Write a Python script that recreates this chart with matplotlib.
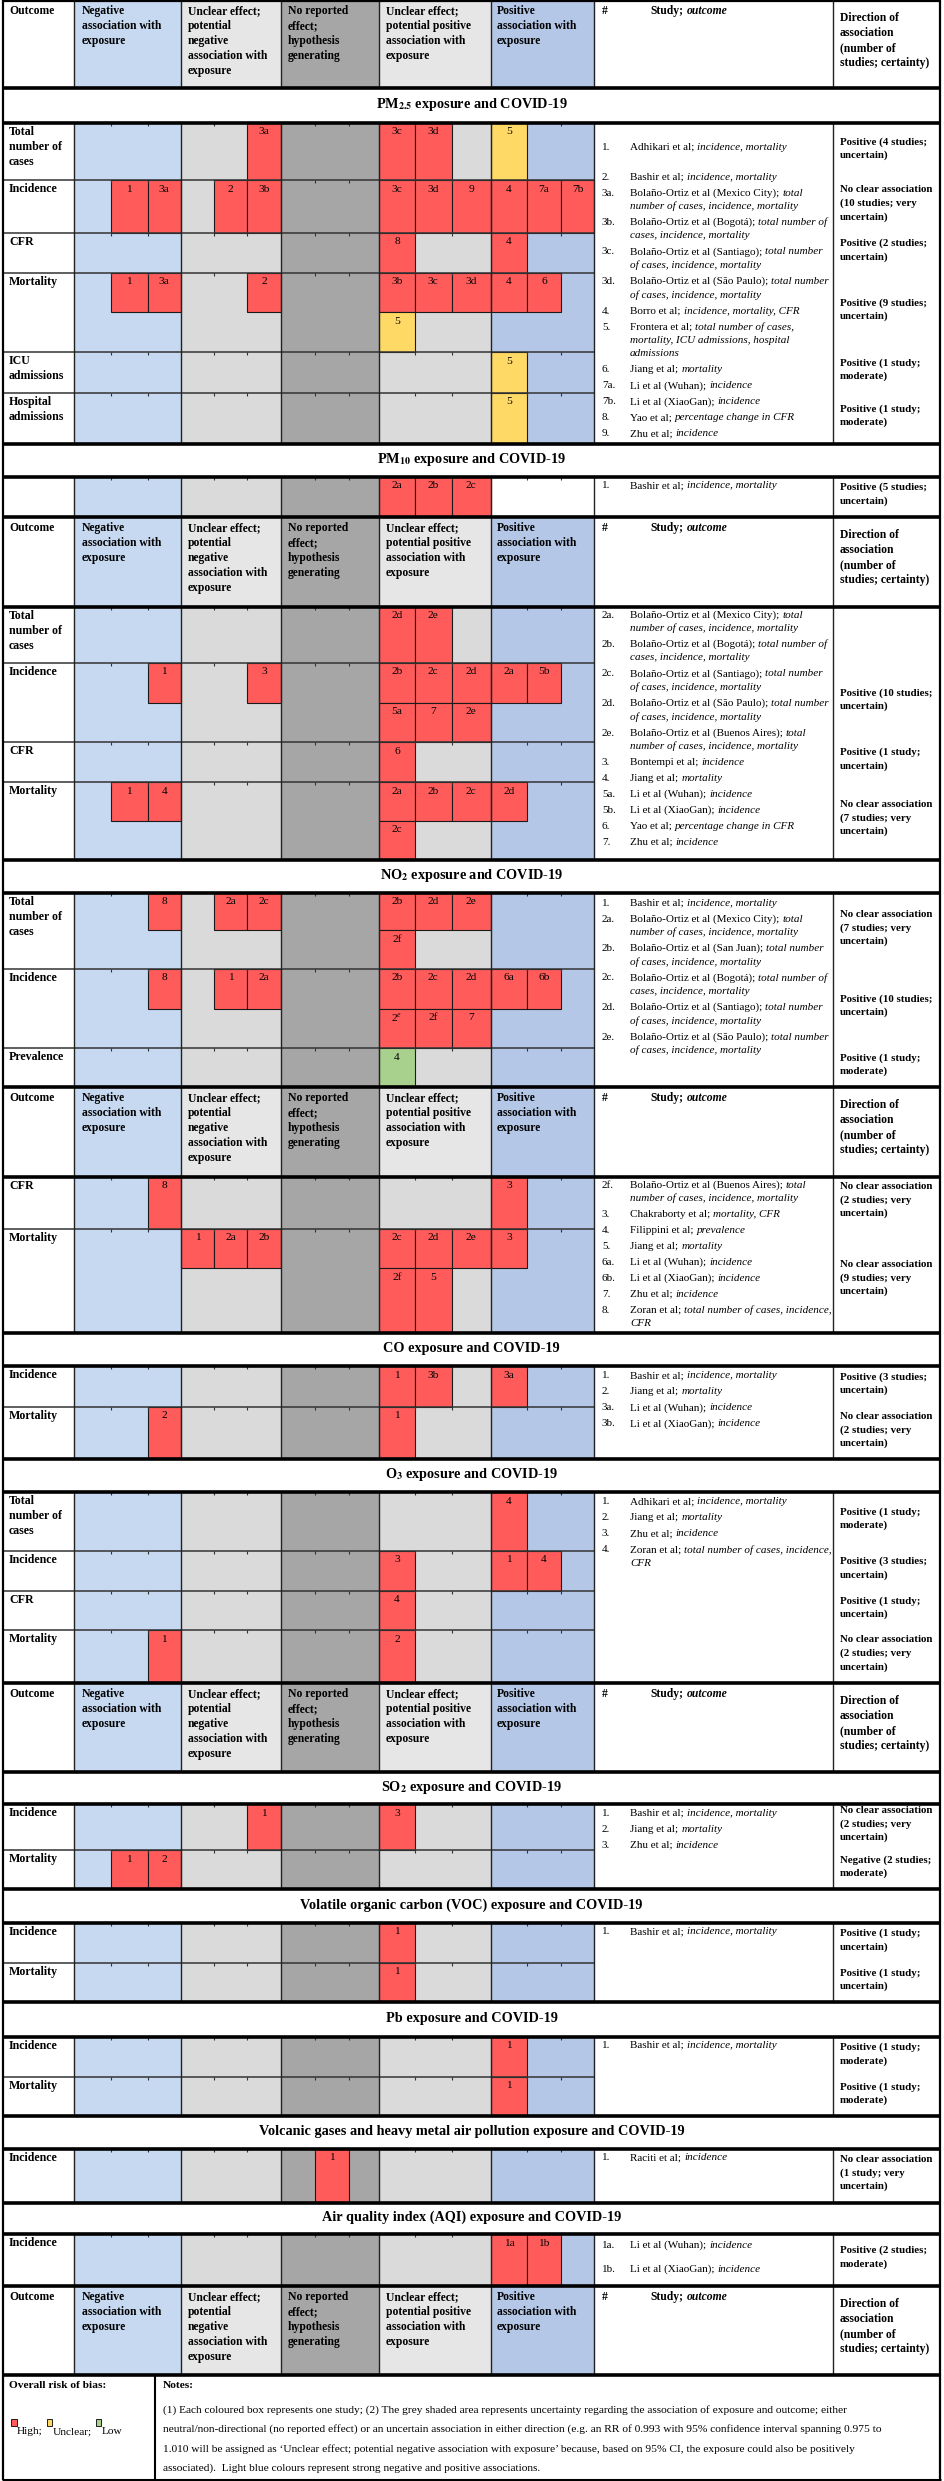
import matplotlib
matplotlib.use('Agg')
import matplotlib.pyplot as plt
from matplotlib.patches import Rectangle

plt.rcParams['font.family'] = ['Liberation Serif', 'DejaVu Serif']
plt.rcParams['mathtext.fontset'] = 'stix'

# ---------------------------------------------------------------- data
HEADER_LABELS = ["Outcome",
                 "Negative\nassociation with\nexposure",
                 "Unclear effect;\npotential\nnegative\nassociation with\nexposure",
                 "No reported\neffect;\nhypothesis\ngenerating",
                 "Unclear effect;\npotential positive\nassociation with\nexposure",
                 "Positive\nassociation with\nexposure"]
DIRECTION_HEADER = "Direction of\nassociation\n(number of\nstudies; certainty)"

TITLES = {
    'PM25': r"PM$_{\mathbf{2.5}}$ exposure and COVID-19",
    'PM10': r"PM$_{\mathbf{10}}$ exposure and COVID-19",
    'NO2': r"NO$_{\mathbf{2}}$ exposure and COVID-19",
    'CO': "CO exposure and COVID-19",
    'O3': r"O$_{\mathbf{3}}$ exposure and COVID-19",
    'SO2': r"SO$_{\mathbf{2}}$ exposure and COVID-19",
    'VOC': "Volatile organic carbon (VOC) exposure and COVID-19",
    'Pb': "Pb exposure and COVID-19",
    'Volc': "Volcanic gases and heavy metal air pollution exposure and COVID-19",
    'AQI': "Air quality index (AQI) exposure and COVID-19",
}

# boxes: (line, slot 0-14, label, risk of bias H/U/L)
PM25_OUTCOMES = ["Total\nnumber of\ncases", "Incidence", "CFR", "Mortality", "ICU\nadmissions", "Hospital\nadmissions"]
PM25_BOXES = [
    [(0, 5, '3a', 'H'), (0, 9, '3c', 'H'), (0, 10, '3d', 'H'), (0, 12, '5', 'U')],
    [(0, 1, '1', 'H'), (0, 2, '3a', 'H'), (0, 4, '2', 'H'), (0, 5, '3b', 'H'), (0, 9, '3c', 'H'),
     (0, 10, '3d', 'H'), (0, 11, '9', 'H'), (0, 12, '4', 'H'), (0, 13, '7a', 'H'), (0, 14, '7b', 'H')],
    [(0, 9, '8', 'H'), (0, 12, '4', 'H')],
    [(0, 1, '1', 'H'), (0, 2, '3a', 'H'), (0, 5, '2', 'H'), (0, 9, '3b', 'H'), (0, 10, '3c', 'H'),
     (0, 11, '3d', 'H'), (0, 12, '4', 'H'), (0, 13, '6', 'H'), (1, 9, '5', 'U')],
    [(0, 12, '5', 'U')],
    [(0, 12, '5', 'U')],
]
PM25_DIRECTIONS = ["Positive (4 studies;\nuncertain)", "No clear association\n(10 studies; very\nuncertain)",
                   "Positive (2 studies;\nuncertain)", "Positive (9 studies;\nuncertain)",
                   "Positive (1 study;\nmoderate)", "Positive (1 study;\nmoderate)"]
PM25_STUDIES = [
    ("1.", "Adhikari et al;", "incidence, mortality"),
    ("2.", "Bashir et al;", "incidence, mortality"),
    ("3a.", "Bolaño-Ortiz et al (Mexico City);", "total\nnumber of cases, incidence, mortality"),
    ("3b.", "Bolaño-Ortiz et al (Bogotá);", "total number of\ncases, incidence, mortality"),
    ("3c.", "Bolaño-Ortiz et al (Santiago);", "total number\nof cases, incidence, mortality"),
    ("3d.", "Bolaño-Ortiz et al (São Paulo);", "total number\nof cases, incidence, mortality"),
    ("4.", "Borro et al;", "incidence, mortality, CFR"),
    ("5.", "Frontera et al;", "total number of cases,\nmortality, ICU admissions, hospital\nadmissions"),
    ("6.", "Jiang et al;", "mortality"),
    ("7a.", "Li et al (Wuhan);", "incidence"),
    ("7b.", "Li et al (XiaoGan);", "incidence"),
    ("8.", "Yao et al;", "percentage change in CFR"),
    ("9.", "Zhu et al;", "incidence"),
]

PM10A_OUTCOMES = [""]
PM10A_BOXES = [[(0, 9, '2a', 'H'), (0, 10, '2b', 'H'), (0, 11, '2c', 'H')]]
PM10A_DIRECTIONS = ["Positive (5 studies;\nuncertain)"]
PM10A_STUDIES = [("1.", "Bashir et al;", "incidence, mortality")]

PM10_OUTCOMES = ["Total\nnumber of\ncases", "Incidence", "CFR", "Mortality"]
PM10_BOXES = [
    [(0, 9, '2d', 'H'), (0, 10, '2e', 'H')],
    [(0, 2, '1', 'H'), (0, 5, '3', 'H'), (0, 9, '2b', 'H'), (0, 10, '2c', 'H'), (0, 11, '2d', 'H'),
     (0, 12, '2a', 'H'), (0, 13, '5b', 'H'), (1, 9, '5a', 'H'), (1, 10, '7', 'H'), (1, 11, '2e', 'H')],
    [(0, 9, '6', 'H')],
    [(0, 1, '1', 'H'), (0, 2, '4', 'H'), (0, 9, '2a', 'H'), (0, 10, '2b', 'H'), (0, 11, '2c', 'H'),
     (0, 12, '2d', 'H'), (1, 9, '2c', 'H')],
]
PM10_DIRECTIONS = [None, "Positive (10 studies;\nuncertain)", "Positive (1 study;\nuncertain)",
                   "No clear association\n(7 studies; very\nuncertain)"]
PM10_STUDIES = [
    ("2a.", "Bolaño-Ortiz et al (Mexico City);", "total\nnumber of cases, incidence, mortality"),
    ("2b.", "Bolaño-Ortiz et al (Bogotá);", "total number of\ncases, incidence, mortality"),
    ("2c.", "Bolaño-Ortiz et al (Santiago);", "total number\nof cases, incidence, mortality"),
    ("2d.", "Bolaño-Ortiz et al (São Paulo);", "total number\nof cases, incidence, mortality"),
    ("2e.", "Bolaño-Ortiz et al (Buenos Aires);", "total\nnumber of cases, incidence, mortality"),
    ("3.", "Bontempi et al;", "incidence"),
    ("4.", "Jiang et al;", "mortality"),
    ("5a.", "Li et al (Wuhan);", "incidence"),
    ("5b.", "Li et al (XiaoGan);", "incidence"),
    ("6.", "Yao et al;", "percentage change in CFR"),
    ("7.", "Zhu et al;", "incidence"),
]

NO2A_OUTCOMES = ["Total\nnumber of\ncases", "Incidence", "Prevalence"]
NO2A_BOXES = [
    [(0, 2, '8', 'H'), (0, 4, '2a', 'H'), (0, 5, '2c', 'H'), (0, 9, '2b', 'H'), (0, 10, '2d', 'H'),
     (0, 11, '2e', 'H'), (1, 9, '2f', 'H')],
    [(0, 2, '8', 'H'), (0, 4, '1', 'H'), (0, 5, '2a', 'H'), (0, 9, '2b', 'H'), (0, 10, '2c', 'H'),
     (0, 11, '2d', 'H'), (0, 12, '6a', 'H'), (0, 13, '6b', 'H'), (1, 9, r'2$^{e}$', 'H'),
     (1, 10, '2f', 'H'), (1, 11, '7', 'H')],
    [(0, 9, '4', 'L')],
]
NO2A_DIRECTIONS = ["No clear association\n(7 studies; very\nuncertain)", "Positive (10 studies;\nuncertain)",
                   "Positive (1 study;\nmoderate)"]
NO2A_STUDIES = [
    ("1.", "Bashir et al;", "incidence, mortality"),
    ("2a.", "Bolaño-Ortiz et al (Mexico City);", "total\nnumber of cases, incidence, mortality"),
    ("2b.", "Bolaño-Ortiz et al (San Juan);", "total number\nof cases, incidence, mortality"),
    ("2c.", "Bolaño-Ortiz et al (Bogotá);", "total number of\ncases, incidence, mortality"),
    ("2d.", "Bolaño-Ortiz et al (Santiago);", "total number\nof cases, incidence, mortality"),
    ("2e.", "Bolaño-Ortiz et al (São Paulo);", "total number\nof cases, incidence, mortality"),
]

NO2B_OUTCOMES = ["CFR", "Mortality"]
NO2B_BOXES = [
    [(0, 2, '8', 'H'), (0, 12, '3', 'H')],
    [(0, 3, '1', 'H'), (0, 4, '2a', 'H'), (0, 5, '2b', 'H'), (0, 9, '2c', 'H'), (0, 10, '2d', 'H'),
     (0, 11, '2e', 'H'), (0, 12, '3', 'H'), (1, 9, '2f', 'H'), (1, 10, '5', 'H')],
]
NO2B_DIRECTIONS = ["No clear association\n(2 studies; very\nuncertain)",
                   "No clear association\n(9 studies; very\nuncertain)"]
NO2B_STUDIES = [
    ("2f.", "Bolaño-Ortiz et al (Buenos Aires);", "total\nnumber of cases, incidence, mortality"),
    ("3.", "Chakraborty et al;", "mortality, CFR"),
    ("4.", "Filippini et al;", "prevalence"),
    ("5.", "Jiang et al;", "mortality"),
    ("6a.", "Li et al (Wuhan);", "incidence"),
    ("6b.", "Li et al (XiaoGan);", "incidence"),
    ("7.", "Zhu et al;", "incidence"),
    ("8.", "Zoran et al;", "total number of cases, incidence,\nCFR"),
]

CO_OUTCOMES = ["Incidence", "Mortality"]
CO_BOXES = [[(0, 9, '1', 'H'), (0, 10, '3b', 'H'), (0, 12, '3a', 'H')],
            [(0, 2, '2', 'H'), (0, 9, '1', 'H')]]
CO_DIRECTIONS = ["Positive (3 studies;\nuncertain)", "No clear association\n(2 studies; very\nuncertain)"]
CO_STUDIES = [("1.", "Bashir et al;", "incidence, mortality"), ("2.", "Jiang et al;", "mortality"),
              ("3a.", "Li et al (Wuhan);", "incidence"), ("3b.", "Li et al (XiaoGan);", "incidence")]

O3_OUTCOMES = ["Total\nnumber of\ncases", "Incidence", "CFR", "Mortality"]
O3_BOXES = [[(0, 12, '4', 'H')],
            [(0, 9, '3', 'H'), (0, 12, '1', 'H'), (0, 13, '4', 'H')],
            [(0, 9, '4', 'H')],
            [(0, 2, '1', 'H'), (0, 9, '2', 'H')]]
O3_DIRECTIONS = ["Positive (1 study;\nmoderate)", "Positive (3 studies;\nuncertain)",
                 "Positive (1 study;\nuncertain)", "No clear association\n(2 studies; very\nuncertain)"]
O3_STUDIES = [("1.", "Adhikari et al;", "incidence, mortality"), ("2.", "Jiang et al;", "mortality"),
              ("3.", "Zhu et al;", "incidence"), ("4.", "Zoran et al;", "total number of cases, incidence,\nCFR")]

SO2_OUTCOMES = ["Incidence", "Mortality"]
SO2_BOXES = [[(0, 5, '1', 'H'), (0, 9, '3', 'H')], [(0, 1, '1', 'H'), (0, 2, '2', 'H')]]
SO2_DIRECTIONS = ["No clear association\n(2 studies; very\nuncertain)", "Negative (2 studies;\nmoderate)"]
SO2_STUDIES = [("1.", "Bashir et al;", "incidence, mortality"), ("2.", "Jiang et al;", "mortality"),
               ("3.", "Zhu et al;", "incidence")]

VOC_OUTCOMES = ["Incidence", "Mortality"]
VOC_BOXES = [[(0, 9, '1', 'H')], [(0, 9, '1', 'H')]]
VOC_DIRECTIONS = ["Positive (1 study;\nuncertain)", "Positive (1 study;\nuncertain)"]
VOC_STUDIES = [("1.", "Bashir et al;", "incidence, mortality")]

PB_OUTCOMES = ["Incidence", "Mortality"]
PB_BOXES = [[(0, 12, '1', 'H')], [(0, 12, '1', 'H')]]
PB_DIRECTIONS = ["Positive (1 study;\nmoderate)", "Positive (1 study;\nmoderate)"]
PB_STUDIES = [("1.", "Bashir et al;", "incidence, mortality")]

VOLC_OUTCOMES = ["Incidence"]
VOLC_BOXES = [[(0, 7, '1', 'H')]]
VOLC_DIRECTIONS = ["No clear association\n(1 study; very\nuncertain)"]
VOLC_STUDIES = [("1.", "Raciti et al;", "incidence")]

AQI_OUTCOMES = ["Incidence"]
AQI_BOXES = [[(0, 12, '1a', 'H'), (0, 13, '1b', 'H')]]
AQI_DIRECTIONS = ["Positive (2 studies;\nmoderate)"]
AQI_STUDIES = [("1a.", "Li et al (Wuhan);", "incidence"), ("1b.", "Li et al (XiaoGan);", "incidence")]

NOTES_LINES = [
    "(1) Each coloured box represents one study; (2) The grey shaded area represents uncertainty regarding the association of exposure and outcome; either",
    "neutral/non-directional (no reported effect) or an uncertain association in either direction (e.g. an RR of 0.993 with 95% confidence interval spanning 0.975 to",
    "1.010 will be assigned as \u2018Unclear effect; potential negative association with exposure\u2019 because, based on 95% CI, the exposure could also be positively",
    "associated).  Light blue colours represent strong negative and positive associations.",
]
BIAS_LEGEND = [("H", "High;"), ("U", "Unclear;"), ("L", "Low")]

BLOCKS = {
    'PM25': (PM25_OUTCOMES, PM25_BOXES, PM25_DIRECTIONS, PM25_STUDIES),
    'PM10a': (PM10A_OUTCOMES, PM10A_BOXES, PM10A_DIRECTIONS, PM10A_STUDIES),
    'PM10': (PM10_OUTCOMES, PM10_BOXES, PM10_DIRECTIONS, PM10_STUDIES),
    'NO2a': (NO2A_OUTCOMES, NO2A_BOXES, NO2A_DIRECTIONS, NO2A_STUDIES),
    'NO2b': (NO2B_OUTCOMES, NO2B_BOXES, NO2B_DIRECTIONS, NO2B_STUDIES),
    'CO': (CO_OUTCOMES, CO_BOXES, CO_DIRECTIONS, CO_STUDIES),
    'O3': (O3_OUTCOMES, O3_BOXES, O3_DIRECTIONS, O3_STUDIES),
    'SO2': (SO2_OUTCOMES, SO2_BOXES, SO2_DIRECTIONS, SO2_STUDIES),
    'VOC': (VOC_OUTCOMES, VOC_BOXES, VOC_DIRECTIONS, VOC_STUDIES),
    'Pb': (PB_OUTCOMES, PB_BOXES, PB_DIRECTIONS, PB_STUDIES),
    'Volc': (VOLC_OUTCOMES, VOLC_BOXES, VOLC_DIRECTIONS, VOLC_STUDIES),
    'AQI': (AQI_OUTCOMES, AQI_BOXES, AQI_DIRECTIONS, AQI_STUDIES),
}

# ---------------------------------------------------------------- layout (pixels)
W, H = 944, 2481
XL, XR = 3, 940
X_OUT = 74
SLOT_EDGES = [74, 111, 147.5, 181, 214, 247, 281, 315, 349, 379, 415, 451.5, 491, 527, 561, 594]
GROUP_EDGES = [74, 181, 281, 379, 491, 594]
X_DIR = 833
X_NOTES = 155

LAYOUT = [
    ('header', 0, 88),
    ('title', 88, 123, 'PM25'),
    ('block', 'PM25', [(123, 180, None), (180, 233, None), (233, 273, None), (273, 352, 312),
                       (352, 393, None), (393, 444, None)], 147, {0: 14}),
    ('title', 444, 477, 'PM10'),
    ('block', 'PM10a', [(477, 517, None)], 486, {}),
    ('header', 517, 607),
    ('block', 'PM10', [(607, 663, None), (663, 742, 703), (742, 782, None), (782, 860, 821)], 615, {}),
    ('title', 860, 893, 'NO2'),
    ('block', 'NO2a', [(893, 969, 930), (969, 1048, 1009), (1048, 1087, None)], 903, {}),
    ('header', 1087, 1177),
    ('block', 'NO2b', [(1177, 1229, None), (1229, 1333, 1268)], 1185, {}),
    ('title', 1333, 1366, 'CO'),
    ('block', 'CO', [(1366, 1407, None), (1407, 1459, None)], 1376, {}),
    ('title', 1459, 1492, 'O3'),
    ('block', 'O3', [(1492, 1551, None), (1551, 1591, None), (1591, 1630, None), (1630, 1683, None)], 1502, {}),
    ('header', 1683, 1772),
    ('title', 1772, 1804, 'SO2'),
    ('block', 'SO2', [(1804, 1850, None), (1850, 1889, None)], 1813, {}),
    ('title', 1889, 1923, 'VOC'),
    ('block', 'VOC', [(1923, 1963, None), (1963, 2002, None)], 1932, {}),
    ('title', 2002, 2037, 'Pb'),
    ('block', 'Pb', [(2037, 2077, None), (2077, 2116, None)], 2045, {}),
    ('title', 2116, 2149, 'Volc'),
    ('block', 'Volc', [(2149, 2203, None)], 2158, {}),
    ('title', 2203, 2234, 'AQI'),
    ('block', 'AQI', [(2234, 2286, None)], 2245, {0: 8}),
    ('header', 2286, 2375),
    ('notes', 2375, 2480),
]

NEG = '#c6d9f1'
POS = '#b4c7e7'
LGRAY = '#dadada'
HGRAY = '#e6e6e6'
DGRAY = '#a6a6a6'
BODY_COLORS = [NEG, LGRAY, DGRAY, LGRAY, POS]
HEAD_COLORS = [NEG, HGRAY, DGRAY, HGRAY, POS]
BIAS_COLORS = {'H': '#ff5b5b', 'U': '#ffd966', 'L': '#a9d18e'}

FS_HEAD = 8.4
FS_OUT = 8.6
FS_BOX = 8.2
FS_STUDY = 8.0
FS_DIR = 7.8
FS_TITLE = 10.3
FS_NOTE = 8.2

fig = plt.figure(figsize=(W / 100, H / 100), dpi=100)
ax = fig.add_axes([0, 0, 1, 1])
ax.set_xlim(0, W)
ax.set_ylim(H, 0)
ax.axis('off')
renderer = fig.canvas.get_renderer()


def rect(x0, y0, x1, y1, fc, ec='none', lw=0, z=1):
    ax.add_patch(Rectangle((x0, y0), x1 - x0, y1 - y0, facecolor=fc, edgecolor=ec, linewidth=lw, zorder=z))


def hline(y, x0, x1, lw=1.0, c='#222222', z=5):
    ax.plot([x0, x1], [y, y], color=c, lw=lw, zorder=z, solid_capstyle='butt')


def vline(x, y0, y1, lw=1.0, c='#222222', z=5):
    ax.plot([x, x], [y0, y1], color=c, lw=lw, zorder=z, solid_capstyle='butt')


def text_width(t):
    bb = t.get_window_extent(renderer=renderer)
    return bb.width


def lines_text(x, y, s, step, **kw):
    for i, ln in enumerate(s.split('\n')):
        ax.text(x, y + i * step, ln, va='center', ha='left', zorder=10, **kw)


def draw_header(y0, y1):
    rect(XL, y0, XR, y1, 'white')
    for g in range(5):
        rect(GROUP_EDGES[g], y0, GROUP_EDGES[g + 1], y1, HEAD_COLORS[g])
    xs = [9, 82, 188, 288, 386, 497]
    for x, lab in zip(xs, HEADER_LABELS):
        lines_text(x, y0 + 11, lab, 15, fontsize=FS_HEAD, fontweight='bold')
    ax.text(602, y0 + 11, "#", va='center', ha='left', fontsize=FS_HEAD, fontweight='bold', zorder=10)
    t = ax.text(650, y0 + 11, "Study;", va='center', ha='left', fontsize=FS_HEAD, fontweight='bold', zorder=10)
    ax.text(650 + text_width(t) + 3.5, y0 + 11, "outcome", va='center', ha='left', fontsize=FS_HEAD,
            fontweight='bold', fontstyle='italic', zorder=10)
    lines_text(840, y0 + 18, DIRECTION_HEADER, 15, fontsize=FS_HEAD, fontweight='bold')
    for x in [X_OUT] + GROUP_EDGES[1:] + [X_DIR]:
        vline(x, y0, y1, lw=1.0)


def draw_title(y0, y1, key):
    rect(XL, y0, XR, y1, 'white')
    ax.text((XL + XR) / 2, (y0 + y1) / 2 - 1, TITLES[key], ha='center', va='center',
            fontsize=FS_TITLE, fontweight='bold', zorder=10)


def draw_block(key, rows, study_y, gaps):
    outcomes, boxes, directions, studies = BLOCKS[key]
    top, bot = rows[0][0], rows[-1][1]
    rect(GROUP_EDGES[-1], top, XR, bot, 'white')
    for r, (y0, y1, split) in enumerate(rows):
        rect(XL, y0, X_OUT, y1, 'white')
        for g in range(5):
            fc = BODY_COLORS[g]
            if key == 'PM10a' and g == 4:
                fc = 'white'
            rect(GROUP_EDGES[g], y0, GROUP_EDGES[g + 1], y1, fc)
        # small ticks at sub-column boundaries
        for s in range(1, 15):
            if SLOT_EDGES[s] not in GROUP_EDGES:
                vline(SLOT_EDGES[s], y0, y0 + 2.5, lw=0.8, c='#333333')
        for (line, slot, lab, bias) in boxes[r]:
            if split is None:
                b0, b1 = y0, y1
            else:
                b0, b1 = (y0, split) if line == 0 else (split, y1)
            rect(SLOT_EDGES[slot], b0, SLOT_EDGES[slot + 1], b1, BIAS_COLORS[bias], ec='#1a1a1a', lw=0.8, z=3)
            ax.text((SLOT_EDGES[slot] + SLOT_EDGES[slot + 1]) / 2, b0 + 9, lab, ha='center', va='center',
                    fontsize=FS_BOX, zorder=10)
        if outcomes[r]:
            lines_text(9, y0 + 9, outcomes[r], 15, fontsize=FS_OUT, fontweight='bold')
        if directions[r]:
            n = directions[r].count('\n') + 1
            yc = (y0 + y1) / 2 - 3
            lines_text(840, yc - (n - 1) * 13.5 / 2, directions[r], 13.5, fontsize=FS_DIR, fontweight='bold')
        if r > 0:
            hline(y0, XL, GROUP_EDGES[-1], lw=1.1, c='#333333')
    # vertical lines
    for x in [X_OUT] + GROUP_EDGES[1:] + [X_DIR]:
        vline(x, top, bot, lw=1.0)
    # study list
    y = study_y
    for i, (num, reg, ital) in enumerate(studies):
        ax.text(602, y, num, va='center', ha='left', fontsize=FS_STUDY, zorder=10)
        t = ax.text(630, y, reg, va='center', ha='left', fontsize=FS_STUDY, zorder=10)
        w = text_width(t)
        parts = ital.split('\n')
        for j, p in enumerate(parts):
            x = 630 + w + 3 if j == 0 else 630
            ax.text(x, y + j * 13.5, p, va='center', ha='left', fontsize=FS_STUDY, fontstyle='italic', zorder=10)
        y += len(parts) * 13.5 + 2.5 + gaps.get(i, 0)


def draw_notes(y0, y1):
    rect(XL, y0, XR, y1, 'white')
    vline(X_NOTES, y0, y1, lw=1.5, c='black')
    ax.text(9, y0 + 10, "Overall risk of bias:", va='center', ha='left', fontsize=FS_NOTE,
            fontweight='bold', zorder=10)
    ax.text(163, y0 + 10, "Notes:", va='center', ha='left', fontsize=FS_NOTE, fontweight='bold', zorder=10)
    for i, ln in enumerate(NOTES_LINES):
        ax.text(163, y0 + 35 + i * 19.5, ln, va='center', ha='left', fontsize=FS_NOTE, zorder=10)
    x = 11
    for code, lab in BIAS_LEGEND:
        rect(x, y0 + 44, x + 5.5, y0 + 51, BIAS_COLORS[code], ec='black', lw=0.6, z=6)
        t = ax.text(x + 6, y0 + 57, lab, va='center', ha='left', fontsize=FS_NOTE, zorder=10)
        x += 6 + text_width(t) + 4


kinds = []
for item in LAYOUT:
    kind = item[0]
    if kind == 'header':
        draw_header(item[1], item[2])
        kinds.append((item[1], item[2]))
    elif kind == 'title':
        draw_title(item[1], item[2], item[3])
        kinds.append((item[1], item[2]))
    elif kind == 'block':
        draw_block(item[1], item[2], item[3], item[4])
        kinds.append((item[2][0][0], item[2][-1][1]))
    elif kind == 'notes':
        draw_notes(item[1], item[2])
        kinds.append((item[1], item[2]))

# thick separators between sections
for (y0, y1) in kinds[1:]:
    hline(y0, XL - 1, XR + 1, lw=2.6, c='black', z=7)
hline(1, XL - 1, XR + 1, lw=1.6, c='black', z=7)
hline(kinds[-1][1], XL - 1, XR + 1, lw=2.2, c='black', z=7)
vline(XL, 0, kinds[-1][1], lw=1.6, c='black', z=7)
vline(XR, 0, kinds[-1][1], lw=1.6, c='black', z=7)

fig.savefig('out.png', dpi=100, facecolor='white')
